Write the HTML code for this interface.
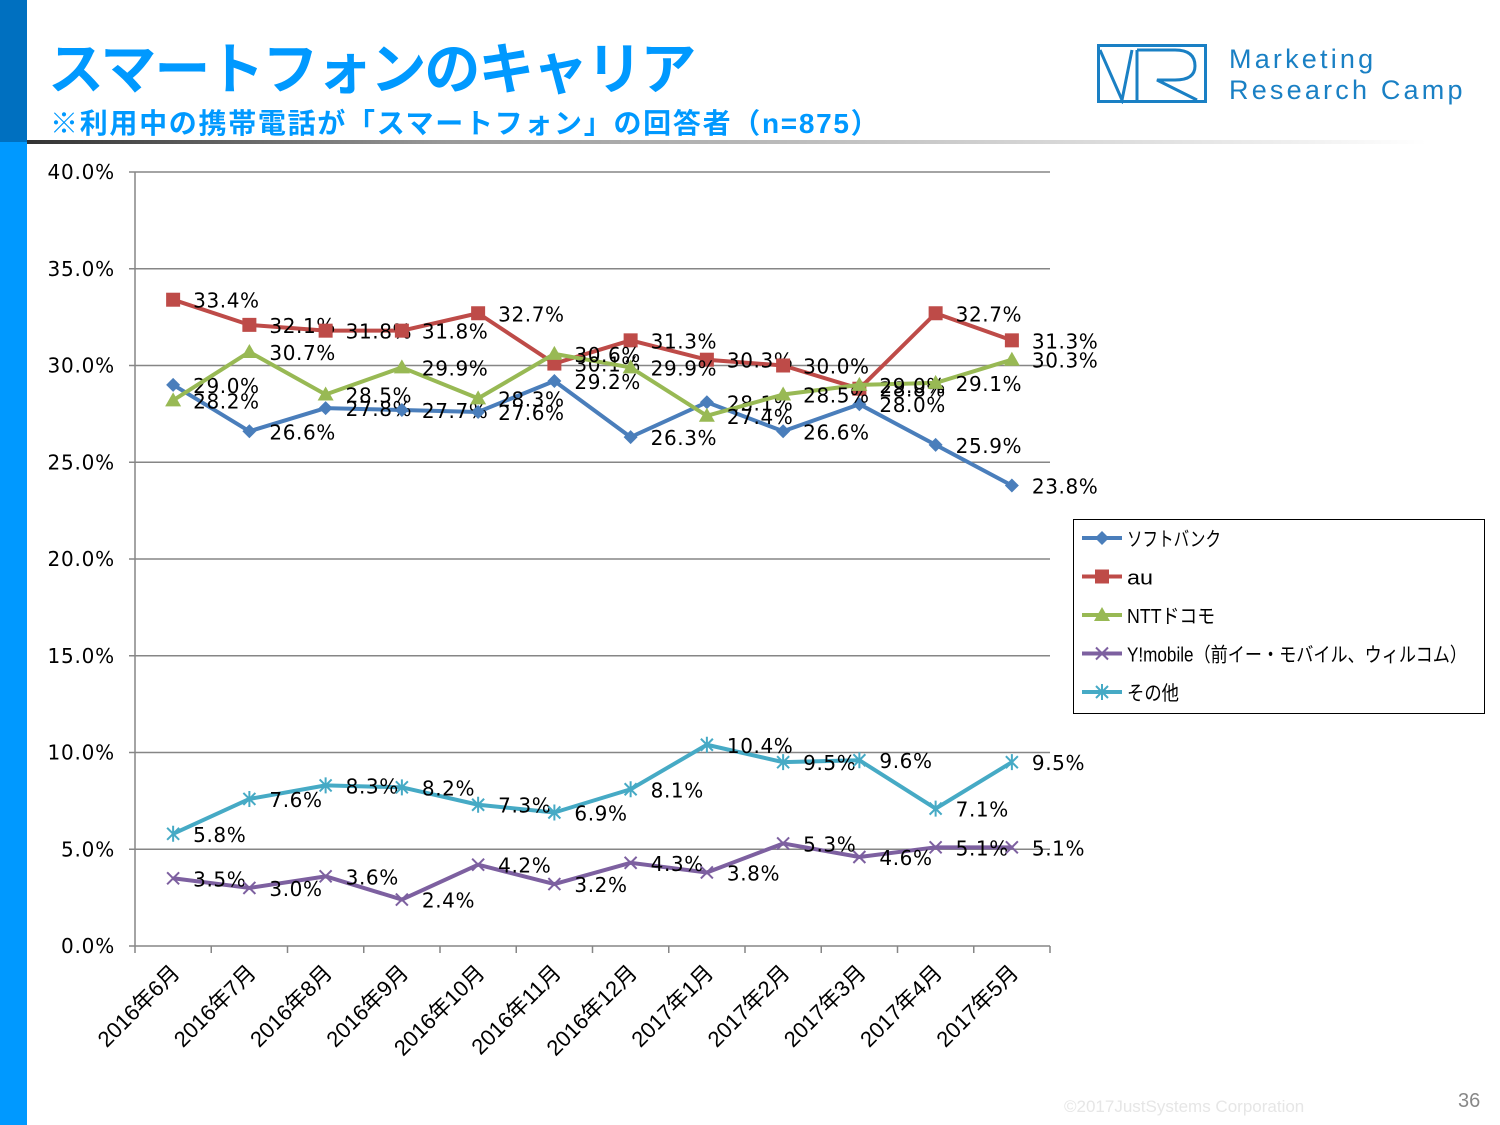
<!DOCTYPE html>
<html><head><meta charset="utf-8"><style>
body{margin:0;width:1500px;height:1125px;background:#fff;overflow:hidden;position:relative;font-family:"Liberation Sans","Noto Sans CJK JP",sans-serif}
.abs{position:absolute}
</style></head><body>
<div class="abs" style="left:0;top:0;width:27px;height:142px;background:#0070c0"></div>
<div class="abs" style="left:0;top:142px;width:27px;height:983px;background:#0099ff"></div>
<div class="abs" style="left:48px;top:34px;font-size:56px;font-weight:bold;color:#0099ff;white-space:nowrap;line-height:72px;letter-spacing:-2px">スマートフォンのキャリア</div>
<div class="abs" style="left:50px;top:106px;font-size:28px;font-weight:bold;color:#0099ff;white-space:nowrap;line-height:36px;letter-spacing:1.7px">※利用中の携帯電話が「スマートフォン」の回答者（n=875）</div>
<div class="abs" style="left:27px;top:140px;width:1400px;height:4px;background:linear-gradient(90deg,#333,#999 30%,#eee 90%,#fff)"></div>
<svg class="abs" style="left:1097px;top:44px" width="112" height="60"><rect x="1.5" y="1.5" width="107" height="56" fill="none" stroke="#1a80c4" stroke-width="3"/><path d="M3 6 L25 56 L35 6 M40 6 L40 56 M40 6 H78 Q98 6 98 22 Q98 36 78 36 H60 L100 56" fill="none" stroke="#1a80c4" stroke-width="3"/></svg>
<div class="abs" style="left:1229px;top:44px;font-size:27px;line-height:31px;color:#1a80c4;letter-spacing:3.2px;white-space:nowrap">Marketing<br>Research Camp</div>
<div class="abs" style="left:1064px;top:1097px;font-size:17px;color:#e6e6e6">©2017JustSystems Corporation</div>
<div class="abs" style="left:1458px;top:1090px;font-size:20px;color:#888">36</div>
<svg id="chart" class="abs" style="left:0;top:0" width="1500" height="1125"></svg>
<script>
const categories=["2016年6月","2016年7月","2016年8月","2016年9月","2016年10月","2016年11月","2016年12月","2017年1月","2017年2月","2017年3月","2017年4月","2017年5月"];
const yTicks=[0,5,10,15,20,25,30,35,40];
const seriesNames=["ソフトバンク","au","NTTドコモ","Y!mobile（前イー・モバイル、ウィルコム）","その他"];
const softbank=[29.0,26.6,27.8,27.7,27.6,29.2,26.3,28.1,26.6,28.0,25.9,23.8];
const au=[33.4,32.1,31.8,31.8,32.7,30.1,31.3,30.3,30.0,28.8,32.7,31.3];
const docomo=[28.2,30.7,28.5,29.9,28.3,30.6,29.9,27.4,28.5,29.0,29.1,30.3];
const ymobile=[3.5,3.0,3.6,2.4,4.2,3.2,4.3,3.8,5.3,4.6,5.1,5.1];
const other=[5.8,7.6,8.3,8.2,7.3,6.9,8.1,10.4,9.5,9.6,7.1,9.5];
const legendWidths=[94,26,88,340,52];
const svg=document.getElementById('chart'),NS='http://www.w3.org/2000/svg';
const L=135,R=1050,T=172,B=946;
const step=(R-L)/categories.length;
const xs=i=>L+(i+0.5)*step, ys=v=>B-(v/40)*(B-T);
function el(t,a,p){const e=document.createElementNS(NS,t);for(const k in a)e.setAttribute(k,a[k]);(p||svg).appendChild(e);return e;}
yTicks.forEach(v=>{const g=el('line',{x1:L,x2:R,y1:ys(v),y2:ys(v),stroke:'#868686','stroke-width':1.5});


const t=el('text',{x:115,y:ys(v)+7,'text-anchor':'end','font-size':20,fill:'#000','font-family':'DejaVu Sans,sans-serif','letter-spacing':0.8});t.textContent=v.toFixed(1)+'%';


el('line',{x1:L-6,x2:L,y1:ys(v),y2:ys(v),stroke:'#868686','stroke-width':1.5});});
el('line',{x1:L,x2:L,y1:T,y2:B,stroke:'#868686','stroke-width':1.5});
for(let i=0;i<=categories.length;i++)el('line',{x1:L+i*step,x2:L+i*step,y1:B,y2:B+7,stroke:'#868686','stroke-width':1.5});
categories.forEach((c,i)=>{const x=xs(i)+8,y=B+28;const t=el('text',{x:x,y:y,'text-anchor':'end','font-size':22,transform:`rotate(-45 ${x} ${y})`,'font-family':'Liberation Sans,Noto Sans CJK JP,sans-serif'});t.textContent=c;

});
const all=[softbank,au,docomo,ymobile,other],colors=['#4a7ebb','#be4b48','#98b954','#7d60a0','#46aac5'],mk=['diamond','square','triangle','x','star'];
function marker(type,x,y,c,p){
 if(type==='diamond')el('path',{d:`M${x} ${y-7}L${x+7} ${y}L${x} ${y+7}L${x-7} ${y}Z`,fill:c},p);
 else if(type==='square')el('rect',{x:x-7,y:y-7,width:14,height:14,fill:c},p);
 else if(type==='triangle')el('path',{d:`M${x} ${y-8}L${x+8} ${y+6}L${x-8} ${y+6}Z`,fill:c},p);
 else if(type==='x')el('path',{d:`M${x-6} ${y-6}L${x+6} ${y+6}M${x+6} ${y-6}L${x-6} ${y+6}`,stroke:c,'stroke-width':2},p);
 else el('path',{d:`M${x-6} ${y-6}L${x+6} ${y+6}M${x+6} ${y-6}L${x-6} ${y+6}M${x} ${y-8}V${y+8}`,stroke:c,'stroke-width':2},p);}
all.forEach((d,s)=>{const g=el('g',{});


el('polyline',{points:d.map((v,i)=>xs(i)+','+ys(v)).join(' '),fill:'none',stroke:colors[s],'stroke-width':4,'stroke-linejoin':'round'},g);
d.forEach((v,i)=>{marker(mk[s],xs(i),ys(v),colors[s],g);
const t=el('text',{x:xs(i)+20,y:ys(v)+8,'font-size':20,fill:'#000','font-family':'DejaVu Sans,sans-serif','letter-spacing':0.6},g);t.textContent=v.toFixed(1)+'%';

});});
const lg=el('g',{});


el('rect',{x:1073.5,y:519.5,width:411,height:194,fill:'#fff',stroke:'#000','stroke-width':1},lg);
seriesNames.forEach((n,s)=>{const y=538+s*38.5;el('line',{x1:1082,x2:1122,y1:y,y2:y,stroke:colors[s],'stroke-width':4},lg);marker(mk[s],1102,y,colors[s],lg);
const t=el('text',{x:1127,y:y+8,'font-size':20,'font-family':'Liberation Sans,Noto Sans CJK JP,sans-serif',textLength:legendWidths[s],lengthAdjust:'spacingAndGlyphs'},lg);t.textContent=n;

});
</script>
</body></html>
